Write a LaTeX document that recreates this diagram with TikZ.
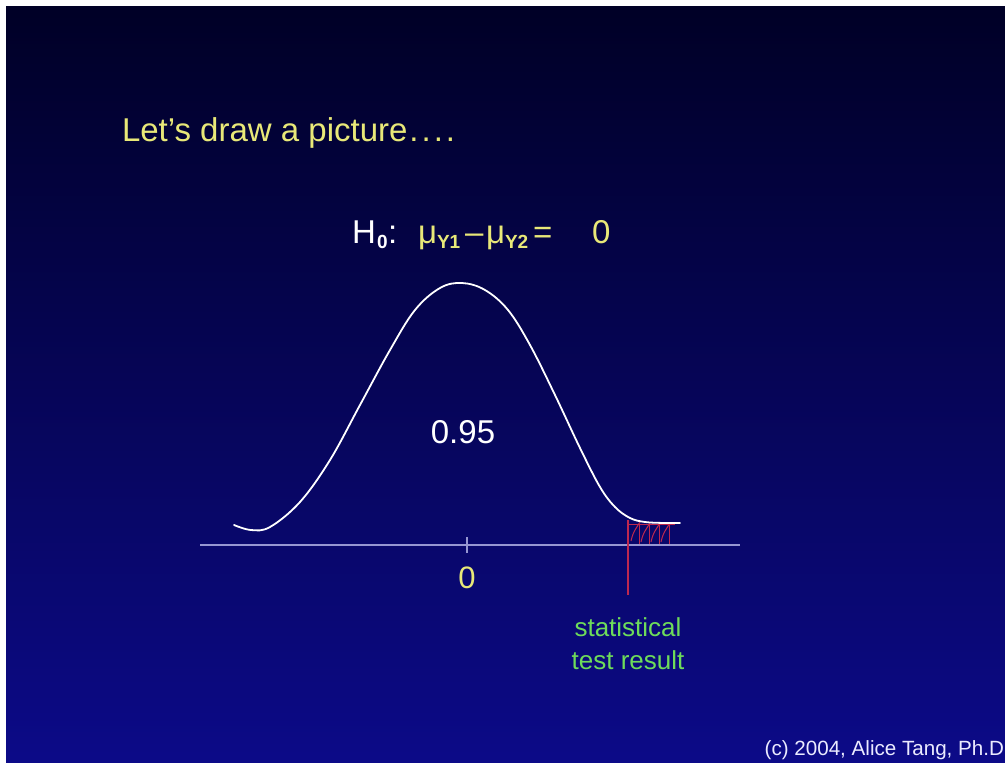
\documentclass[tikz,border=0pt]{standalone}
\usepackage{fontspec}
\setmainfont{Liberation Sans}
\definecolor{bgtop}{RGB}{0,0,38}
\definecolor{bgbot}{RGB}{12,10,136}
\definecolor{yl}{RGB}{232,232,120}
\definecolor{gr}{RGB}{110,220,90}
\definecolor{axc}{RGB}{150,150,210}
\definecolor{rd}{RGB}{190,40,80}
\begin{document}
\begin{tikzpicture}[x=1pt,y=-1pt,
  lbl/.style={inner sep=0pt,outer sep=0pt},
  hyp/.style={lbl,anchor=base west,font=\fontsize{33}{36}\selectfont},
  sub/.style={lbl,anchor=base west,font=\fontsize{19}{21}\selectfont\bfseries},
  curve/.style={white,line width=1.8pt,line cap=round}]
\useasboundingbox (0,0) rectangle (1005,763);
\fill[white] (0,0) rectangle (1005,763);
\shade[top color=bgtop,bottom color=bgbot] (6,6) rectangle (1005,763);
% title
\node[lbl,anchor=base west,text=yl,font=\fontsize{33}{36}\selectfont] (title) at (122,141) {Let’s draw a picture\hspace{2pt}.\hspace{3pt}.\hspace{3pt}.\hspace{3pt}.};
% hypothesis
\node[hyp,text=white] (H) at (352,243) {H};
\node[sub,text=white] (h0) at (377,248) {0};
\node[hyp,text=white] (col) at (388,243) {:};
\node[hyp,text=yl] (mu1) at (418,243) {μ};
\node[sub,text=yl] (y1) at (437,248) {Y1};
\node[hyp,text=yl] (dash) at (465,243) {–};
\node[hyp,text=yl] (mu2) at (486,243) {μ};
\node[sub,text=yl] (y2) at (505,248) {Y2};
\node[hyp,text=yl] (eq) at (533,243) {=};
\node[hyp,text=yl] (z) at (592,243) {0};
% axis
\coordinate (axL) at (200,545);
\coordinate (axR) at (740,545);
\draw[axc,line width=1.6pt] (axL) -- (axR);
\coordinate (tkT) at (467,537);
\coordinate (tkB) at (467,553);
\draw[axc,line width=1.6pt] (tkT) -- (tkB);
% red shading
\coordinate (rT) at (628,520);
\coordinate (rB) at (628,595);
\draw[rd,line width=1.2pt] (rT) -- (rB);
\foreach \xa/\ya in {631/541,641/542,651/542,661/542}
  \draw[rd,line width=1pt] (\xa,\ya) .. controls (\xa+2,\ya-8) .. (\xa+9,\ya-19);
\foreach \xa in {639,649,659,669}
  \draw[rd,line width=0.8pt] (\xa,524) -- (\xa,544);
\draw[rd,line width=1pt] (628,524) -- (675,524);
% curve
\draw[curve] plot[smooth,tension=0.6] coordinates {
 (234,525) (251,530) (270,527) (300,502) (330,460) (360,405) (390,350) (415,310) (440,288) (462,283) (485,290) (508,310) (530,345) (555,395) (580,448) (600,487) (615,507) (630,518) (645,522) (665,523) (680,523)};
% labels
\node[lbl,text=white,font=\fontsize{33}{36}\selectfont] (p95) at (463,432) {0.95};
\node[lbl,text=yl,font=\fontsize{31}{33}\selectfont] (zero) at (467,578) {0};
\node[lbl,text=gr,align=center,font=\fontsize{26}{33}\selectfont] (stat) at (628,644) {statistical\\test result};
\node[lbl,anchor=base east,text=white!92!blue,font=\fontsize{20.6}{22}\selectfont] (copy) at (1004,755) {(c) 2004, Alice Tang, Ph.D};
\end{tikzpicture}
\end{document}
